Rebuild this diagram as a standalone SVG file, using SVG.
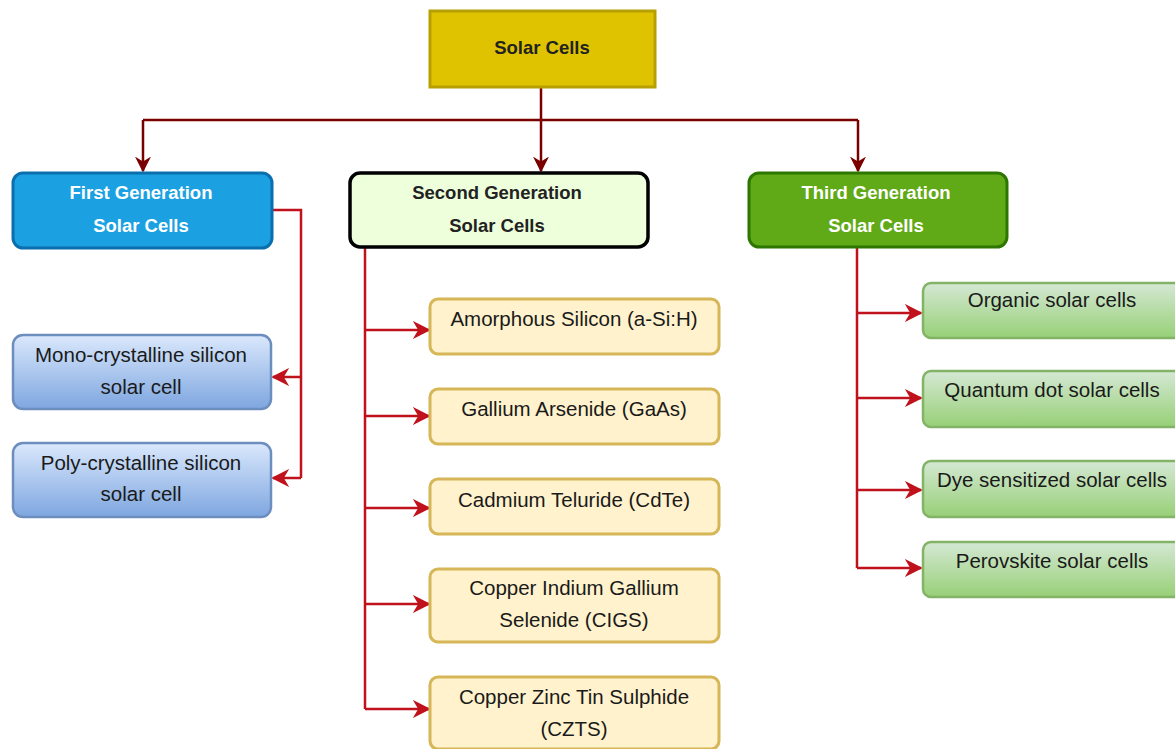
<svg xmlns="http://www.w3.org/2000/svg" width="1175" height="749" viewBox="0 0 1175 749">
<defs>
<linearGradient id="gBlue" x1="0" y1="0" x2="0" y2="1"><stop offset="0" stop-color="#dae8fc"/><stop offset="1" stop-color="#7ea6e0"/></linearGradient>
<linearGradient id="gGreen" x1="0" y1="0" x2="0" y2="1"><stop offset="0" stop-color="#d5e8d4"/><stop offset="1" stop-color="#97d077"/></linearGradient>
<marker id="aDark" viewBox="0 0 10 10" refX="9" refY="5" markerWidth="16" markerHeight="16" markerUnits="userSpaceOnUse" orient="auto"><path d="M0,0 L10,5 L0,10 L3,5 Z" fill="#7a0000"/></marker>
<marker id="aRed" viewBox="0 0 10 10" refX="9" refY="5" markerWidth="18" markerHeight="18" markerUnits="userSpaceOnUse" orient="auto"><path d="M0,0 L10,5 L0,10 L3,5 Z" fill="#c0121c"/></marker>
<style>
.hd{font-family:"Liberation Sans",Arial,sans-serif;font-size:18.5px;font-weight:bold;text-anchor:middle}
.lf{font-family:"Liberation Sans",Arial,sans-serif;font-size:20.5px;text-anchor:middle;fill:#1a1a1a}
.blue{fill:url(#gBlue);stroke:#6c8ebf;stroke-width:2.5}
.yel{fill:#fff2cc;stroke:#d6b656;stroke-width:3}
.grn{fill:url(#gGreen);stroke:#82b366;stroke-width:2.5}
.cd{fill:none;stroke:#7a0000;stroke-width:2.5}
.cr{fill:none;stroke:#c0121c;stroke-width:2.5}
</style>
</defs>
<rect width="1175" height="749" fill="#ffffff"/>
<g id="connectors">
<path class="cd" d="M541,87 V120 M143,120 H858"/>
<path class="cd" d="M143,120 V171" marker-end="url(#aDark)"/>
<path class="cd" d="M541,120 V171" marker-end="url(#aDark)"/>
<path class="cd" d="M858,120 V171" marker-end="url(#aDark)"/>
<path class="cr" d="M272,210 H301 V478"/>
<path class="cr" d="M301,377 H273" marker-end="url(#aRed)"/>
<path class="cr" d="M301,478 H273" marker-end="url(#aRed)"/>
<path class="cr" d="M365,248 V709"/>
<path class="cr" d="M365,330 H429" marker-end="url(#aRed)"/>
<path class="cr" d="M365,416 H429" marker-end="url(#aRed)"/>
<path class="cr" d="M365,508 H429" marker-end="url(#aRed)"/>
<path class="cr" d="M365,604 H429" marker-end="url(#aRed)"/>
<path class="cr" d="M365,709 H429" marker-end="url(#aRed)"/>
<path class="cr" d="M857,248 V568"/>
<path class="cr" d="M857,313 H921" marker-end="url(#aRed)"/>
<path class="cr" d="M857,398 H921" marker-end="url(#aRed)"/>
<path class="cr" d="M857,490 H921" marker-end="url(#aRed)"/>
<path class="cr" d="M857,568 H921" marker-end="url(#aRed)"/>
</g>
<g id="root"><rect x="430" y="11" width="225" height="76" fill="#dfc300" stroke="#b89f00" stroke-width="3"/><text class="hd" x="542" y="54" fill="#222">Solar Cells</text></g>
<g id="gen1"><rect x="13" y="173" width="259" height="75" rx="10" fill="#1ba1e2" stroke="#0b6fae" stroke-width="3"/><text class="hd" x="141" y="199" fill="#fff">First Generation</text><text class="hd" x="141" y="232" fill="#fff">Solar Cells</text></g>
<g id="gen2"><rect x="350" y="173" width="298" height="74" rx="10" fill="#eeffdc" stroke="#000" stroke-width="3.5"/><text class="hd" x="497" y="199" fill="#222">Second Generation</text><text class="hd" x="497" y="232" fill="#222">Solar Cells</text></g>
<g id="gen3"><rect x="749" y="173" width="258" height="74" rx="10" fill="#60a917" stroke="#2d7600" stroke-width="3"/><text class="hd" x="876" y="199" fill="#fff">Third Generation</text><text class="hd" x="876" y="232" fill="#fff">Solar Cells</text></g>
<g id="mono"><rect class="blue" x="13" y="335" width="258" height="74" rx="10"/><text class="lf" x="141" y="362">Mono-crystalline silicon</text><text class="lf" x="141" y="394">solar cell</text></g>
<g id="poly"><rect class="blue" x="13" y="443" width="258" height="74" rx="10"/><text class="lf" x="141" y="470">Poly-crystalline silicon</text><text class="lf" x="141" y="501">solar cell</text></g>
<g id="asi"><rect class="yel" x="430" y="299" width="289" height="55" rx="8"/><text class="lf" x="574" y="326">Amorphous Silicon (a-Si:H)</text></g>
<g id="gaas"><rect class="yel" x="430" y="389" width="289" height="55" rx="8"/><text class="lf" x="574" y="416">Gallium Arsenide (GaAs)</text></g>
<g id="cdte"><rect class="yel" x="430" y="479" width="289" height="55" rx="8"/><text class="lf" x="574" y="507">Cadmium Teluride (CdTe)</text></g>
<g id="cigs"><rect class="yel" x="430" y="569" width="289" height="73" rx="8"/><text class="lf" x="574" y="595">Copper Indium Gallium</text><text class="lf" x="574" y="627">Selenide (CIGS)</text></g>
<g id="czts"><rect class="yel" x="430" y="677" width="289" height="72" rx="8"/><text class="lf" x="574" y="704">Copper Zinc Tin Sulphide</text><text class="lf" x="574" y="736">(CZTS)</text></g>
<g id="organic"><rect class="grn" x="923" y="283" width="270" height="55" rx="8"/><text class="lf" x="1052" y="307">Organic solar cells</text></g>
<g id="quantum"><rect class="grn" x="923" y="371" width="270" height="56" rx="8"/><text class="lf" x="1052" y="397">Quantum dot solar cells</text></g>
<g id="dye"><rect class="grn" x="923" y="461" width="270" height="56" rx="8"/><text class="lf" x="1052" y="487">Dye sensitized solar cells</text></g>
<g id="perovskite"><rect class="grn" x="923" y="542" width="270" height="55" rx="8"/><text class="lf" x="1052" y="568">Perovskite solar cells</text></g>
</svg>
